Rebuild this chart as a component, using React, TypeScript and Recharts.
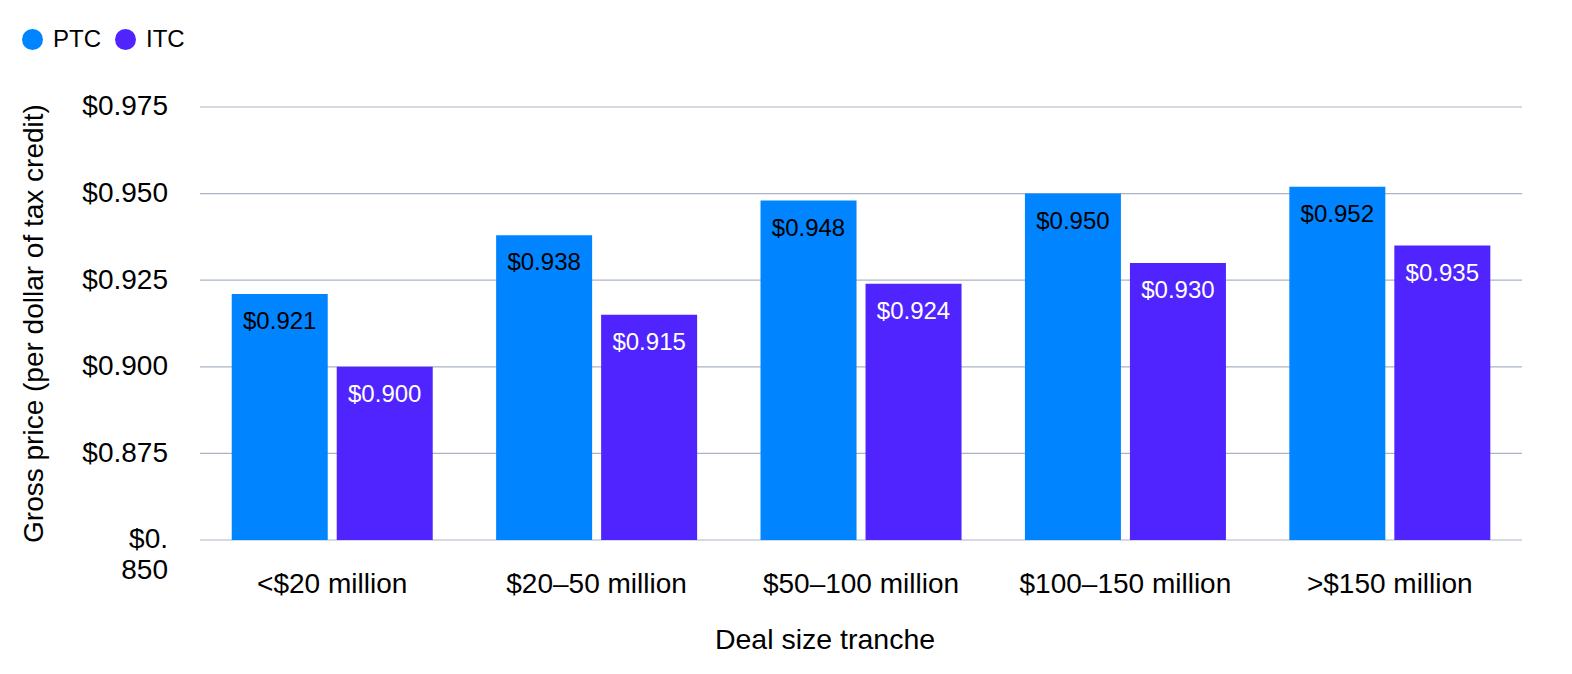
import React from 'react';
import { BarChart, Bar, XAxis, YAxis, CartesianGrid, Legend, LabelList } from 'recharts';

const categories = ['<$20 million', '$20\u201350 million', '$50\u2013100 million', '$100\u2013150 million', '>$150 million'];
const ptcValues = [0.921, 0.938, 0.948, 0.95, 0.952];
const itcValues = [0.9, 0.915, 0.924, 0.93, 0.935];
const yTicks = [0.85, 0.875, 0.9, 0.925, 0.95, 0.975];

const PTC_COLOR = '#0084FF';
const ITC_COLOR = '#4F24FF';
const FONT = '"Liberation Sans", Arial, sans-serif';

const data = categories.map((c, i) => ({ name: c, PTC: ptcValues[i], ITC: itcValues[i] }));

const fmt = (v: number) => `$${Number(v).toFixed(3)}`;

const YTick = (props: any) => {
  const { x, y, payload } = props;
  const v = payload.value as number;
  const s = fmt(v);
  if (Math.abs(v - 0.85) < 1e-9) {
    return (
      <text x={x} y={y} textAnchor="end" fontSize={28} fill="#000" fontFamily={FONT}>
        <tspan x={x} dy="0.3em">$0.</tspan>
        <tspan x={x} dy="1.1em">850</tspan>
      </text>
    );
  }
  return (
    <text x={x} y={y} dy="0.3em" textAnchor="end" fontSize={28} fill="#000" fontFamily={FONT}>
      {s}
    </text>
  );
};

const XTick = (props: any) => {
  const { x, y, payload } = props;
  return (
    <text x={x} y={y} dy="0.35em" textAnchor="middle" fontSize={28} fill="#000" fontFamily={FONT}>
      {payload.value}
    </text>
  );
};

const LegendContent = () => (
  <div style={{ display: 'flex', alignItems: 'center', fontFamily: FONT, fontSize: 24, color: '#000' }}>
    {[
      { n: 'PTC', c: PTC_COLOR },
      { n: 'ITC', c: ITC_COLOR },
    ].map((it) => (
      <div key={it.n} style={{ display: 'flex', alignItems: 'center', marginRight: 14 }}>
        <span style={{ width: 21, height: 21, borderRadius: '50%', background: it.c, display: 'inline-block', marginRight: 10 }} />
        <span>{it.n}</span>
      </div>
    ))}
  </div>
);

export default function App() {
  return (
    <div style={{ width: 1556, height: 660, background: '#fff' }}>
      <BarChart
        width={1556}
        height={660}
        data={data}
        margin={{ top: 99, right: 42, left: 0, bottom: 8 }}
        barCategoryGap="12%"
        barGap={9}
      >
        <CartesianGrid vertical={false} stroke="#aab4c6" strokeWidth={1.2} />
        <XAxis
          dataKey="name"
          height={120}
          axisLine={false}
          tickLine={false}
          tickSize={0}
          tickMargin={43}
          tick={<XTick />}
          interval={0}
          label={{ value: 'Deal size tranche', position: 'insideBottom', offset: 11, dx: -36, fontSize: 28.5, fill: '#000', fontFamily: FONT }}
        />
        <YAxis
          width={192}
          domain={[0.85, 0.975]}
          ticks={yTicks}
          allowDataOverflow
          axisLine={false}
          tickLine={false}
          tickSize={0}
          tickMargin={32}
          tick={<YTick />}
          interval={0}
          label={{ value: 'Gross price (per dollar of tax credit)', angle: -90, position: 'insideLeft', offset: 25, fontSize: 28, fill: '#000', fontFamily: FONT, style: { textAnchor: 'middle' } }}
        />
        <Legend layout="horizontal" verticalAlign="middle" align="center" content={<LegendContent />} wrapperStyle={{ top: 17, left: 14, width: 'auto' }} />
        <Bar dataKey="PTC" fill={PTC_COLOR} isAnimationActive={false}>
          <LabelList dataKey="PTC" position="insideTop" offset={18} formatter={(v: any) => fmt(v)} fill="#000" fontSize={24} fontFamily={FONT} />
        </Bar>
        <Bar dataKey="ITC" fill={ITC_COLOR} isAnimationActive={false}>
          <LabelList dataKey="ITC" position="insideTop" offset={18} formatter={(v: any) => fmt(v)} fill="#fff" fontSize={24} fontFamily={FONT} />
        </Bar>
      </BarChart>
    </div>
  );
}
